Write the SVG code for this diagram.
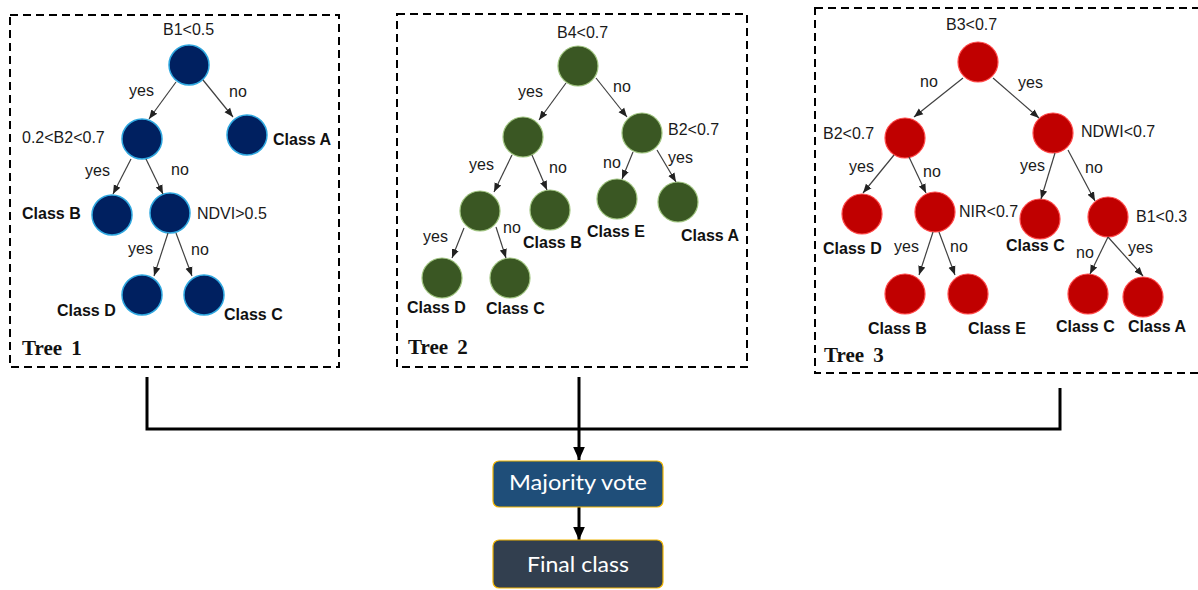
<svg xmlns="http://www.w3.org/2000/svg" width="1198" height="590" viewBox="0 0 1198 590">
<style>
.box{fill:none;stroke:#000;stroke-width:2;stroke-dasharray:8 5}
.t{font-family:"Liberation Sans",Arial,sans-serif;font-size:16px;fill:#1a1a1a}
.c{font-family:"Liberation Sans",Arial,sans-serif;font-size:16px;font-weight:bold;fill:#111}
.tree{font-family:"Liberation Serif","Times New Roman",serif;font-size:21px;font-weight:bold;fill:#111;word-spacing:4px}
.n1{fill:#002060;stroke:#2fa8e0;stroke-width:1.5}
.n2{fill:#3a5723;stroke:#9fc47f;stroke-width:1.2}
.n3{fill:#c00000;stroke:#ff4a4a;stroke-width:1.2}
.e{stroke:#404040;stroke-width:1.2;fill:none;marker-end:url(#ah)}
.big{stroke:#000;stroke-width:3;fill:none}
.bt{font-family:Lato,"Open Sans",sans-serif;font-size:22px;fill:#fff;text-anchor:middle}
</style>
<defs>
<marker id="ah" viewBox="0 0 10 10" refX="10" refY="5" markerWidth="9" markerHeight="9" orient="auto" markerUnits="userSpaceOnUse"><path d="M0,1 L10,5 L0,9 z" fill="#222"/></marker>
<marker id="bah" viewBox="0 0 10 10" refX="10" refY="5" markerWidth="13" markerHeight="13" orient="auto" markerUnits="userSpaceOnUse"><path d="M0,0.5 L10,5 L0,9.5 z" fill="#000"/></marker>
</defs>

<g id="tree1">
<rect class="box" x="10" y="15" width="329" height="352"/>
<text class="tree" x="22" y="355">Tree 1</text>
<g id="t1-root"><circle class="n1" cx="189" cy="65" r="20"/><text class="t" x="163" y="35">B1&lt;0.5</text></g>
<g id="t1-b2"><circle class="n1" cx="142" cy="139" r="20"/><text class="t" x="22" y="143">0.2&lt;B2&lt;0.7</text></g>
<g id="t1-classA"><circle class="n1" cx="247" cy="135" r="20"/><text class="c" x="273" y="145">Class A</text></g>
<g id="t1-classB"><circle class="n1" cx="112" cy="215" r="20"/><text class="c" x="22" y="219">Class B</text></g>
<g id="t1-ndvi"><circle class="n1" cx="170" cy="213" r="20"/><text class="t" x="197" y="219">NDVI&gt;0.5</text></g>
<g id="t1-classD"><circle class="n1" cx="142" cy="295" r="20"/><text class="c" x="57" y="316">Class D</text></g>
<g id="t1-classC"><circle class="n1" cx="204" cy="295" r="20"/><text class="c" x="224" y="320">Class C</text></g>
<g id="t1-edges">
<line class="e" x1="176" y1="82" x2="149" y2="119"/>
<line class="e" x1="203" y1="80" x2="233" y2="117"/>
<line class="e" x1="131" y1="159" x2="113" y2="194"/>
<line class="e" x1="146" y1="159" x2="163" y2="194"/>
<line class="e" x1="168" y1="233" x2="154" y2="276"/>
<line class="e" x1="176" y1="233" x2="192" y2="276"/>
<text class="t" x="129" y="96">yes</text>
<text class="t" x="229" y="97">no</text>
<text class="t" x="85" y="176">yes</text>
<text class="t" x="171" y="175">no</text>
<text class="t" x="128" y="254">yes</text>
<text class="t" x="191" y="255">no</text>
</g>
</g>

<g id="tree2">
<rect class="box" x="397" y="14" width="350" height="353"/>
<text class="tree" x="408" y="354">Tree 2</text>
<g id="t2-root"><circle class="n2" cx="578" cy="66" r="20"/><text class="t" x="557" y="38">B4&lt;0.7</text></g>
<g id="t2-l"><circle class="n2" cx="523" cy="137" r="20"/></g>
<g id="t2-b2"><circle class="n2" cx="642" cy="133" r="20"/><text class="t" x="668" y="135">B2&lt;0.7</text></g>
<g id="t2-ll"><circle class="n2" cx="480" cy="211" r="20"/></g>
<g id="t2-classB"><circle class="n2" cx="550" cy="210" r="20"/><text class="c" x="523" y="248">Class B</text></g>
<g id="t2-classE"><circle class="n2" cx="617" cy="199" r="20"/><text class="c" x="587" y="237">Class E</text></g>
<g id="t2-classA"><circle class="n2" cx="678" cy="202" r="20"/><text class="c" x="681" y="241">Class A</text></g>
<g id="t2-classD"><circle class="n2" cx="442" cy="278" r="20"/><text class="c" x="407" y="313">Class D</text></g>
<g id="t2-classC"><circle class="n2" cx="510" cy="278" r="20"/><text class="c" x="486" y="314">Class C</text></g>
<g id="t2-edges">
<line class="e" x1="566" y1="83" x2="539" y2="120"/>
<line class="e" x1="596" y1="78" x2="627" y2="117"/>
<line class="e" x1="512" y1="155" x2="494" y2="192"/>
<line class="e" x1="532" y1="155" x2="547" y2="190"/>
<line class="e" x1="633" y1="152" x2="622" y2="179"/>
<line class="e" x1="657" y1="150" x2="676" y2="182"/>
<line class="e" x1="464" y1="228" x2="452" y2="258"/>
<line class="e" x1="496" y1="227" x2="506" y2="258"/>
<text class="t" x="518" y="97">yes</text>
<text class="t" x="613" y="92">no</text>
<text class="t" x="469" y="170">yes</text>
<text class="t" x="549" y="173">no</text>
<text class="t" x="603" y="168">no</text>
<text class="t" x="668" y="163">yes</text>
<text class="t" x="423" y="242">yes</text>
<text class="t" x="503" y="233">no</text>
</g>
</g>

<g id="tree3">
<rect class="box" x="815" y="8" width="386" height="365"/>
<text class="tree" x="824" y="362">Tree 3</text>
<g id="t3-root"><circle class="n3" cx="978" cy="62" r="20"/><text class="t" x="946" y="30">B3&lt;0.7</text></g>
<g id="t3-b2"><circle class="n3" cx="905" cy="138" r="20"/><text class="t" x="823" y="139">B2&lt;0.7</text></g>
<g id="t3-ndwi"><circle class="n3" cx="1053" cy="133" r="20"/><text class="t" x="1081" y="137">NDWI&lt;0.7</text></g>
<g id="t3-classD"><circle class="n3" cx="862" cy="214" r="20"/><text class="c" x="823" y="254">Class D</text></g>
<g id="t3-nir"><circle class="n3" cx="935" cy="212" r="20"/><text class="t" x="959" y="217">NIR&lt;0.7</text></g>
<g id="t3-classC1"><circle class="n3" cx="1040" cy="219" r="20"/><text class="c" x="1006" y="251">Class C</text></g>
<g id="t3-b1"><circle class="n3" cx="1108" cy="217" r="20"/><text class="t" x="1136" y="222">B1&lt;0.3</text></g>
<g id="t3-classB"><circle class="n3" cx="905" cy="294" r="20"/><text class="c" x="868" y="334">Class B</text></g>
<g id="t3-classE"><circle class="n3" cx="968" cy="294" r="20"/><text class="c" x="968" y="334">Class E</text></g>
<g id="t3-classC2"><circle class="n3" cx="1088" cy="294" r="20"/><text class="c" x="1056" y="332">Class C</text></g>
<g id="t3-classA"><circle class="n3" cx="1143" cy="297" r="20"/><text class="c" x="1128" y="332">Class A</text></g>
<g id="t3-edges">
<line class="e" x1="963" y1="78" x2="914" y2="117"/>
<line class="e" x1="993" y1="78" x2="1039" y2="118"/>
<line class="e" x1="894" y1="155" x2="863" y2="193"/>
<line class="e" x1="909" y1="157" x2="926" y2="193"/>
<line class="e" x1="1055" y1="153" x2="1041" y2="199"/>
<line class="e" x1="1068" y1="150" x2="1095" y2="201"/>
<line class="e" x1="933" y1="232" x2="919" y2="275"/>
<line class="e" x1="939" y1="232" x2="955" y2="275"/>
<line class="e" x1="1108" y1="237" x2="1090" y2="274"/>
<line class="e" x1="1108" y1="237" x2="1143" y2="276"/>
<text class="t" x="920" y="87">no</text>
<text class="t" x="1018" y="88">yes</text>
<text class="t" x="849" y="172">yes</text>
<text class="t" x="923" y="177">no</text>
<text class="t" x="1020" y="171">yes</text>
<text class="t" x="1085" y="173">no</text>
<text class="t" x="894" y="252">yes</text>
<text class="t" x="950" y="252">no</text>
<text class="t" x="1076" y="258">no</text>
<text class="t" x="1128" y="253">yes</text>
</g>
</g>

<g id="connectors">
<polyline class="big" points="147,377 147,429 1060,429 1060,388"/>
<line class="big" x1="579" y1="377" x2="579" y2="460" marker-end="url(#bah)"/>
<line class="big" x1="579" y1="507" x2="579" y2="540" marker-end="url(#bah)"/>
</g>

<g id="majority-vote">
<rect x="493" y="461" width="170" height="46" rx="6" fill="#1f4e79" stroke="#f0b400" stroke-width="1.2"/>
<text class="bt" x="578" y="490" textLength="138" lengthAdjust="spacingAndGlyphs">Majority vote</text>
</g>
<g id="final-class">
<rect x="493" y="540" width="170" height="48" rx="6" fill="#323f4f" stroke="#f0b400" stroke-width="1.2"/>
<text class="bt" x="578" y="572" textLength="102" lengthAdjust="spacingAndGlyphs">Final class</text>
</g>
</svg>
